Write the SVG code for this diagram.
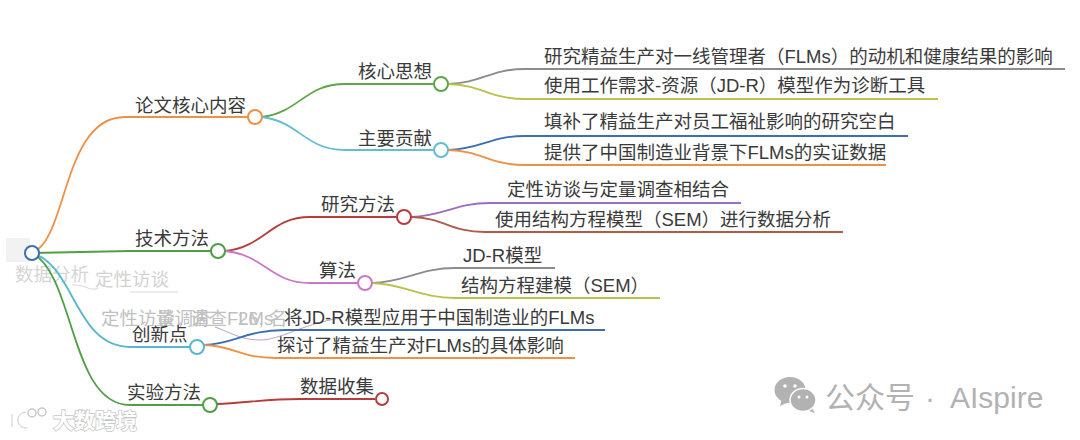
<svg xmlns="http://www.w3.org/2000/svg" width="1080" height="440" viewBox="0 0 1080 440">
<style>
text{font-family:"Liberation Sans","Noto Sans CJK SC",sans-serif;fill:#3a3a3a}
.l{font-size:18.5px}
.g{font-size:18.5px;fill:#c0c0c0}
.c{fill:none;stroke-width:1.8}
.n{fill:#fff;stroke-width:2}
.wm{fill:#b2b2b2}
.wt{font-size:30px;fill:#b2b2b2}
.k{font-size:21px;font-weight:700;fill:#fff;stroke:#c8c8c8;stroke-width:1.6px;paint-order:stroke}
</style>
<rect width="1080" height="440" fill="#fff"/>
<g id="ghost">
<rect x="6" y="238" width="24" height="24" fill="#ececec" opacity=".7"/>
<text class="g" x="15" y="281" style="fill:#d6d6d6">数据分析</text>
<text class="g" x="95" y="286" style="fill:#d2d2d2">定性访谈</text>
<path d="M130 292H178" stroke="#ddd6ea" fill="none"/>
<path d="M72 285C85 284 90 292 98 288" stroke="#e8cfe6" fill="none"/>
<text class="g" x="101" y="325">定性访谈</text>
<text class="g" x="156" y="325">量调查</text>
<text class="g" x="190" y="325">调查FLMs</text>
<text class="g" x="238" y="325">26, 名</text>
<path d="M215 327C230 332 240 340 260 340C280 340 300 325 340 318" fill="none" stroke="#b9a0cc"/>
</g>
<g id="connectors">
<path class="c" stroke="#ee9045" d="M32 253C68 240 62 117 125 117H248"/>
<path class="c" stroke="#4f9f45" d="M32 253L130 251H218"/>
<path class="c" stroke="#55b8cc" d="M32 253C75 265 75 347 130 347H190"/>
<path class="c" stroke="#4f9f45" d="M32 253C75 275 70 405 130 405H203"/>
<path class="c" stroke="#5ea549" d="M262 117C300 112 305 84 345 84H434"/>
<path class="c" stroke="#62bcd2" d="M262 117C300 122 305 150 345 150H434"/>
<path class="c" stroke="#8c8c8c" d="M448 84C482 83 490 69 525 69H1065"/>
<path class="c" stroke="#bcc04c" d="M448 84C482 85 490 99 525 99H938"/>
<path class="c" stroke="#3d6fb0" d="M448 150C482 149 490 136 525 136H908"/>
<path class="c" stroke="#ee9045" d="M448 150C482 151 490 165 525 165H886"/>
<path class="c" stroke="#b73c3c" d="M225 251C265 247 270 217 310 217H397"/>
<path class="c" stroke="#cc77c6" d="M225 251C265 255 270 283 310 283H358"/>
<path class="c" stroke="#9a6fbe" d="M411 217C445 216 455 203 490 203H741"/>
<path class="c" stroke="#b05a4a" d="M411 217C445 218 450 232 485 232H843"/>
<path class="c" stroke="#8c8c8c" d="M372 283C405 282 420 268 455 268H555"/>
<path class="c" stroke="#bcc04c" d="M372 283C405 284 420 298 455 298H660"/>
<path class="c" stroke="#3d6fb0" d="M204 345C235 344 245 330 285 330H605"/>
<path class="c" stroke="#ee9045" d="M204 345C235 346 240 358 275 358H575"/>
<path class="c" stroke="#b73c3c" d="M217 404C245 403 265 399 300 399H375"/>
</g>
<g id="root"><circle class="n" cx="32" cy="253" r="7" stroke="#3d6fb0"/></g>
<g id="n1"><text class="l" x="135" y="112">论文核心内容</text><circle class="n" cx="255" cy="117" r="7" stroke="#ee9045"/></g>
<g id="n2"><text class="l" x="358" y="78">核心思想</text><circle class="n" cx="441" cy="84" r="7" stroke="#5ea549"/></g>
<g id="n3"><text class="l" x="358" y="145">主要贡献</text><circle class="n" cx="441" cy="150" r="7" stroke="#62bcd2"/></g>
<g id="n4"><text class="l" x="544" y="63">研究精益生产对一线管理者（FLMs）的动机和健康结果的影响</text></g>
<g id="n5"><text class="l" x="544" y="92">使用工作需求-资源（JD-R）模型作为诊断工具</text></g>
<g id="n6"><text class="l" x="544" y="128">填补了精益生产对员工福祉影响的研究空白</text></g>
<g id="n7"><text class="l" x="544" y="159">提供了中国制造业背景下FLMs的实证数据</text></g>
<g id="n8"><text class="l" x="135" y="245">技术方法</text><circle class="n" cx="218" cy="251" r="7" stroke="#4f9f45"/></g>
<g id="n9"><text class="l" x="321" y="211">研究方法</text><circle class="n" cx="404" cy="217" r="7" stroke="#b73c3c"/></g>
<g id="n10"><text class="l" x="319" y="277">算法</text><circle class="n" cx="365" cy="283" r="7" stroke="#cc77c6"/></g>
<g id="n11"><text class="l" x="507" y="196">定性访谈与定量调查相结合</text></g>
<g id="n12"><text class="l" x="495" y="226">使用结构方程模型（SEM）进行数据分析</text></g>
<g id="n13"><text class="l" x="463" y="262">JD-R模型</text></g>
<g id="n14"><text class="l" x="461" y="292">结构方程建模（SEM）</text></g>
<g id="n15"><text class="l" x="132" y="341">创新点</text><circle class="n" cx="197" cy="347" r="7" stroke="#55b8cc"/></g>
<g id="n16"><text class="l" x="284" y="324">将JD-R模型应用于中国制造业的FLMs</text></g>
<g id="n17"><text class="l" x="277" y="352">探讨了精益生产对FLMs的具体影响</text></g>
<g id="n18"><text class="l" x="127" y="399">实验方法</text><circle class="n" cx="210" cy="405" r="7" stroke="#4f9f45"/></g>
<g id="n19"><text class="l" x="300" y="393">数据收集</text><circle class="n" cx="382" cy="399" r="6" stroke="#b73c3c"/></g>
<g id="watermarks">
<path class="wm" d="M782 399L780 406L789 402Z"/>
<ellipse class="wm" cx="790" cy="390" rx="15.5" ry="13"/>
<path class="wm" d="M812 408L815 413L806 410Z"/>
<ellipse class="wm" cx="803" cy="400" rx="13" ry="11.5" stroke="#fff" stroke-width="1.5"/>
<circle cx="785" cy="386" r="1.8" fill="#fff"/><circle cx="795" cy="386" r="1.8" fill="#fff"/>
<circle cx="799" cy="397" r="1.5" fill="#fff"/><circle cx="807" cy="397" r="1.5" fill="#fff"/>
<text class="wt" x="825" y="408">公众号</text>
<text class="wt" x="925" y="408">·</text>
<text class="wt" x="950" y="408">AIspire</text>
<text class="k" x="53" y="428">大数跨境</text>
<path d="M12 414V427M26 412C16 412 14 428 27 428" fill="none" stroke="#fff" stroke-width="3"/>
<path d="M12 414V427M26 412C16 412 14 428 27 428" fill="none" stroke="#ccc" stroke-width="1"/>
<circle cx="32" cy="413" r="4" fill="none" stroke="#c8c8c8" stroke-width="1.5"/>
<circle cx="42" cy="412" r="4" fill="none" stroke="#c8c8c8" stroke-width="1.5"/>
</g>
</svg>
